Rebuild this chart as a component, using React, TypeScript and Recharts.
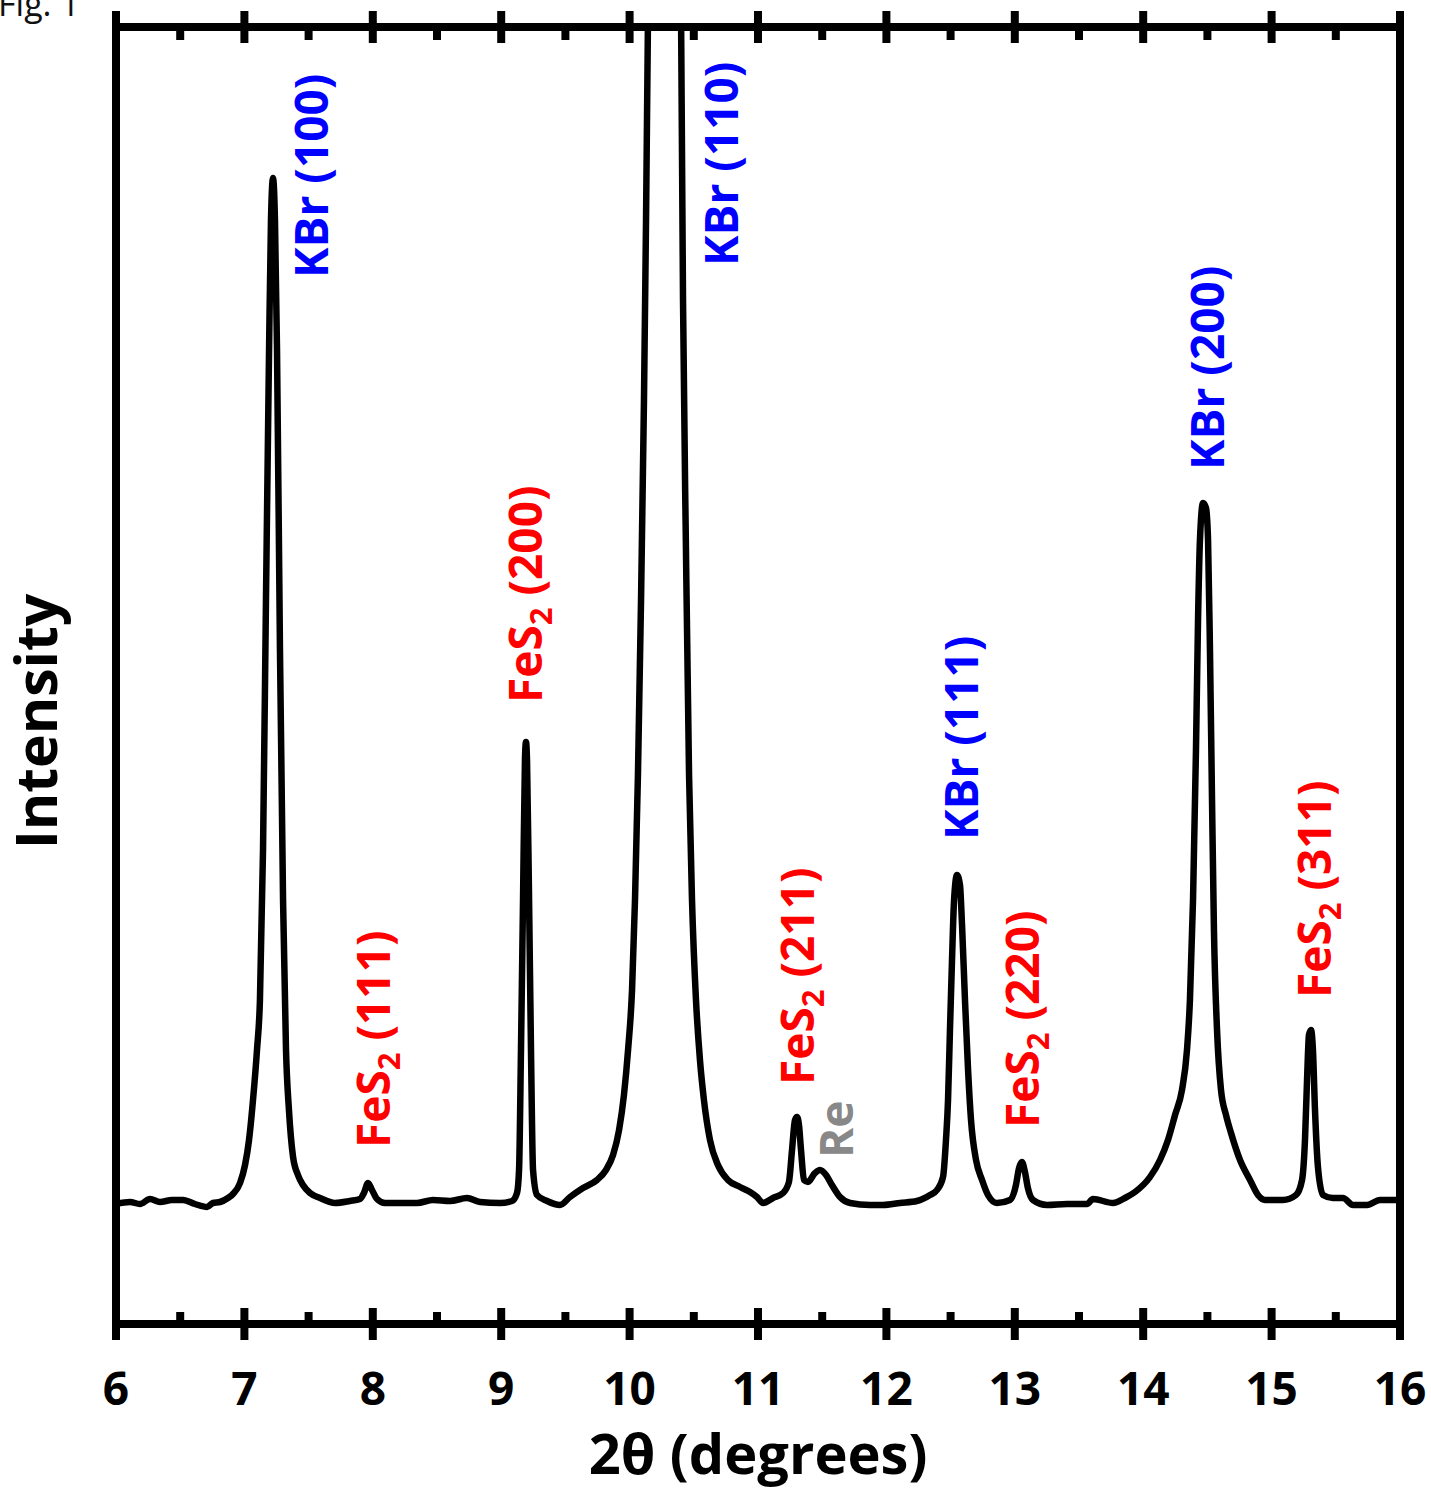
import React from "react";
import { LineChart, Line, XAxis, YAxis, ReferenceDot } from "recharts";

// 2θ (degrees) and intensity (arb. units)
const twoTheta = [
  6.0, 6.109, 6.187, 6.265, 6.343, 6.436, 6.522, 6.615, 6.709, 6.755,
  6.81, 6.872, 6.911, 6.966, 7.005, 7.036, 7.067, 7.098, 7.121, 7.145,
  7.168, 7.192, 7.207, 7.223, 7.238, 7.254, 7.277, 7.301, 7.324, 7.347,
  7.379, 7.417, 7.456, 7.511, 7.589, 7.706, 7.822, 7.9, 7.931, 7.963,
  7.994, 8.033, 8.095, 8.212, 8.344, 8.469, 8.601, 8.734, 8.835, 8.991,
  9.084, 9.123, 9.139, 9.154, 9.17, 9.185, 9.193, 9.201, 9.217, 9.232,
  9.248, 9.279, 9.357, 9.458, 9.536, 9.637, 9.746, 9.816, 9.871, 9.918,
  9.956, 9.988, 10.019, 10.042, 10.065, 10.089, 10.112, 10.128, 10.143, 10.167,
  10.27, 10.385, 10.401, 10.416, 10.439, 10.463, 10.486, 10.517, 10.548, 10.579,
  10.626, 10.688, 10.766, 10.86, 10.938, 10.992, 11.039, 11.117, 11.195, 11.241,
  11.265, 11.288, 11.304, 11.319, 11.335, 11.358, 11.389, 11.444, 11.483, 11.53,
  11.576, 11.639, 11.717, 11.872, 11.974, 12.106, 12.238, 12.34, 12.394, 12.441,
  12.464, 12.48, 12.495, 12.511, 12.527, 12.55, 12.573, 12.589, 12.612, 12.636,
  12.659, 12.698, 12.745, 12.791, 12.861, 12.963, 13.009, 13.033, 13.056, 13.079,
  13.102, 13.142, 13.251, 13.407, 13.562, 13.609, 13.765, 13.858, 13.936, 14.053,
  14.131, 14.193, 14.248, 14.302, 14.341, 14.364, 14.388, 14.411, 14.427, 14.442,
  14.466, 14.489, 14.505, 14.52, 14.536, 14.551, 14.575, 14.606, 14.645, 14.684,
  14.754, 14.832, 14.894, 14.949, 15.089, 15.19, 15.237, 15.26, 15.276, 15.291,
  15.307, 15.322, 15.338, 15.361, 15.4, 15.478, 15.556, 15.634, 15.743, 15.844, 15.977, 16.0,
];
const intensity = [
  120, 122, 120, 125, 122, 124, 124, 120, 117, 121,
  122, 126, 130, 141, 159, 184, 224, 274, 324, 474,
  724, 974, 1104, 1146, 1104, 974, 674, 424, 274, 214,
  167, 149, 139, 131, 126, 121, 123, 125, 131, 141,
  134, 125, 121, 121, 121, 124, 123, 126, 122, 121,
  123, 131, 154, 274, 424, 564, 582, 564, 424, 274,
  154, 129, 123, 119, 127, 136, 144, 154, 169, 194,
  229, 274, 334, 424, 549, 724, 924, 1104, 1304, 1524,
  2600, 1524, 1304, 1024, 774, 549, 424, 324, 264, 224,
  184, 159, 144, 137, 132, 127, 121, 126, 131, 142,
  174, 204, 207, 199, 174, 144, 142, 151, 154, 149,
  139, 127, 121, 119, 119, 121, 123, 129, 134, 147,
  184, 224, 294, 364, 424, 449, 439, 399, 324, 254,
  204, 164, 144, 129, 121, 124, 139, 156, 162, 152,
  136, 124, 119, 120, 120, 125, 121, 126, 132, 147,
  164, 184, 209, 234, 274, 324, 424, 574, 704, 784,
  821, 816, 784, 674, 524, 394, 294, 234, 209, 191,
  164, 144, 129, 124, 124, 129, 144, 184, 244, 289,
  294, 274, 214, 157, 129, 126, 126, 119, 119, 124, 124, 122,
];

const majorTicks = [6, 7, 8, 9, 10, 11, 12, 13, 14, 15, 16];
const minorTicks = [6.5, 7.5, 8.5, 9.5, 10.5, 11.5, 12.5, 13.5, 14.5, 15.5];
const allTicks = [...majorTicks, ...minorTicks].sort((a, b) => a - b);

// peak labels: phase, subscript, reflection, anchor (2θ, intensity) at the start of the text
const labelName = ["KBr", "FeS", "FeS", "KBr", "FeS", "Re", "KBr", "FeS", "KBr", "FeS"];
const labelSub = ["", "2", "2", "", "2", "", "", "2", "", "2"];
const labelHkl = [" (100)", " (111)", " (200)", " (110)", " (211)", "", " (111)", " (220)", " (200)", " (311)"];
const labelAt = [7.526, 8.009, 9.193, 10.72, 11.311, 11.615, 12.589, 13.064, 14.505, 15.338];
const labelLevel = [1046, 176, 621, 1058, 239, 166, 484, 196, 854, 326];
const labelColor = ["#0000ff", "#ff0000", "#ff0000", "#0000ff", "#ff0000", "#888888", "#0000ff", "#ff0000", "#0000ff", "#ff0000"];

const data = twoTheta.map((t, i) => ({ t, v: intensity[i] }));

const FONT = '"Open Sans", "DejaVu Sans", sans-serif';

const BottomTick = (props: any) => {
  const { x, y, payload } = props;
  const major = Number.isInteger(payload.value);
  return (
    <g>
      <line x1={x} x2={x} y1={major ? y - 16 : y - 12} y2={major ? y + 16 : y} stroke="#000" strokeWidth={8} />
      {major && (
        <text x={x} y={y + 81} textAnchor="middle" fontFamily={FONT} fontWeight={700} fontSize={46} fill="#000">
          {payload.value}
        </text>
      )}
    </g>
  );
};

const TopTick = (props: any) => {
  const { x, y, payload } = props;
  const major = Number.isInteger(payload.value);
  return <line x1={x} x2={x} y1={major ? y - 16 : y} y2={major ? y + 16 : y + 13} stroke="#000" strokeWidth={8} />;
};

const PeakLabel = (props: any) => {
  const { viewBox, idx } = props;
  const cx = viewBox.x + viewBox.width / 2;
  const cy = viewBox.y + viewBox.height / 2;
  const sub = labelSub[idx];
  return (
    <text
      transform={`translate(${cx + 16}, ${cy}) rotate(-90)`}
      fontFamily={FONT}
      fontWeight={700}
      fontSize={46}
      fill={labelColor[idx]}
    >
      {labelName[idx]}
      {sub && (
        <tspan fontSize={31} dy={10}>
          {sub}
        </tspan>
      )}
      <tspan dy={sub ? -10 : 0}>{labelHkl[idx]}</tspan>
    </text>
  );
};

export default function App() {
  return (
    <div style={{ position: "absolute", left: 0, top: 0, width: 1431, height: 1488, background: "#fff" }}>
      <LineChart width={1431} height={1488} data={data} margin={{ top: 26, right: 30, left: 115, bottom: 163 }}>
        <XAxis
          dataKey="t"
          type="number"
          domain={[6, 16]}
          ticks={allTicks}
          interval={0}
          allowDataOverflow
          height={1}
          tickSize={0}
          tickMargin={0}
          tickLine={false}
          axisLine={{ stroke: "#000", strokeWidth: 8 }}
          tick={<BottomTick />}
          label={{
            content: (p: any) => {
              const vb = p.viewBox;
              return (
                <text x={vb.x + vb.width / 2} y={vb.y + 150} textAnchor="middle" fontFamily={FONT} fontWeight={700} fontSize={56} fill="#000">
                  2θ (degrees)
                </text>
              );
            },
          }}
        />
        <XAxis
          xAxisId="top"
          orientation="top"
          dataKey="t"
          type="number"
          domain={[6, 16]}
          ticks={allTicks}
          interval={0}
          allowDataOverflow
          height={1}
          tickSize={0}
          tickMargin={0}
          tickLine={false}
          axisLine={{ stroke: "#000", strokeWidth: 8 }}
          tick={<TopTick />}
        />
        <YAxis
          type="number"
          domain={[0, 1297]}
          allowDataOverflow
          width={1}
          tick={false}
          tickLine={false}
          axisLine={{ stroke: "#000", strokeWidth: 8 }}
          label={{
            content: (p: any) => {
              const vb = p.viewBox;
              const cy = vb.y + vb.height / 2 + 46;
              return (
                <text transform={`translate(${vb.x - 58}, ${cy}) rotate(-90)`} textAnchor="middle" fontFamily={FONT} fontWeight={700} fontSize={57} fill="#000">
                  Intensity
                </text>
              );
            },
          }}
        />
        <YAxis
          yAxisId="right"
          orientation="right"
          type="number"
          domain={[0, 1297]}
          width={1}
          tick={false}
          tickLine={false}
          axisLine={{ stroke: "#000", strokeWidth: 8 }}
        />
        <Line
          type="monotone"
          dataKey="v"
          stroke="#000"
          strokeWidth={6.5}
          strokeLinejoin="round"
          dot={false}
          isAnimationActive={false}
        />
        {labelAt.map((at, i) => (
          <ReferenceDot
            key={i}
            x={at}
            y={labelLevel[i]}
            r={1}
            fill="none"
            stroke="none"
            ifOverflow="visible"
            label={<PeakLabel idx={i} />}
          />
        ))}
      </LineChart>
      <svg width={200} height={40} style={{ position: "absolute", left: 0, top: 0 }}>
        <text x={-2} y={16} fontFamily={FONT} fontSize={34} fill="#111">
          Fig. 1
        </text>
      </svg>
    </div>
  );
}
